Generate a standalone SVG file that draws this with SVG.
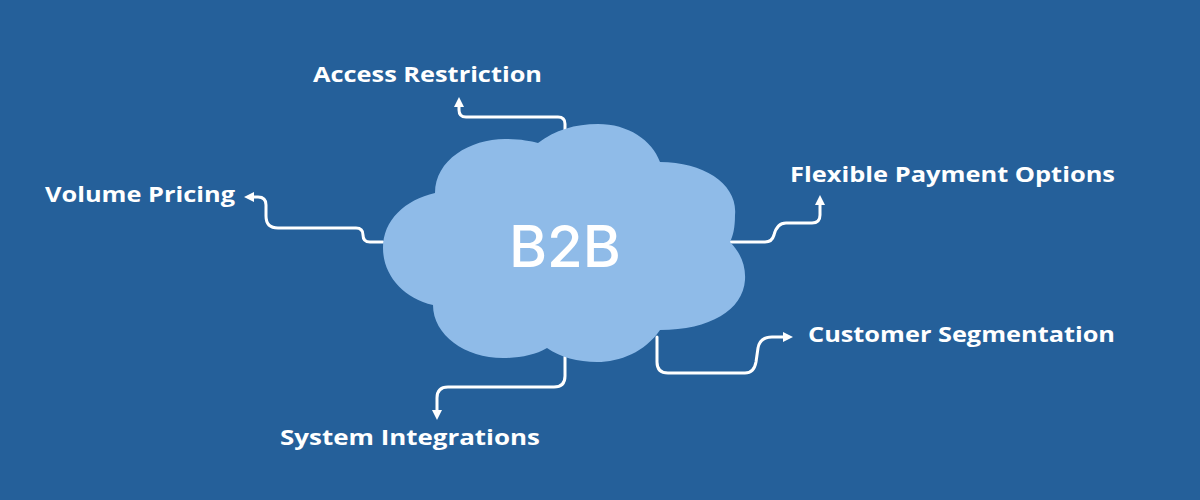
<svg xmlns="http://www.w3.org/2000/svg" width="1200" height="500" viewBox="0 0 1200 500">
  <defs>
    <marker id="arr" viewBox="0 0 10 10" refX="2" refY="5" markerWidth="10" markerHeight="10" markerUnits="userSpaceOnUse" orient="auto">
      <path d="M0,0 L10,5 L0,10 z" fill="#ffffff"/>
    </marker>
    <style>
      .lbl { font-family: "Open Sans", "Lato", sans-serif; font-weight: 700; font-size: 21px; fill: #ffffff; }
      .conn { fill: none; stroke: #ffffff; stroke-width: 3; stroke-linecap: round; stroke-linejoin: round; marker-end: url(#arr); }
    </style>
  </defs>
  <rect width="1200" height="500" fill="#25609a"/>

  <g id="connectors">
    <path class="conn" d="M383,242 H370 Q363,242 363,235 Q363,228 356,228 H278 Q266,228 266,216 V205 Q266,197 258,197 H252"/>
    <path class="conn" d="M565,130 V124 Q565,117 558,117 H466 Q459,117 459,110 V105"/>
    <path class="conn" d="M730,242 H765 Q772,242 774,235 Q777,223 786,223 H812 Q820,223 820,215 V203"/>
    <path class="conn" d="M657,337 V362 Q657,373 668,373 H745 Q754,373 756,362 L758,348 Q760,337 772,337 H785"/>
    <path class="conn" d="M565,357 V376 Q565,387 554,387 H448 Q437,387 437,398 V412"/>
  </g>

  <g id="cloud">
    <path fill="#8fbbe8" d="M435,193 C435,160 470,139 505,139 C520,139 530,141 538,143 C555,130 575,124 598,124 C628,124 652,140 660,162 C705,162 738,185 735,215 C735,228 733,236 730,242 C740,252 746,265 745,280 C743,310 710,330 660,330 C645,352 620,362 597,362 C578,362 560,357 547,348 C535,355 520,358 503,358 C465,358 433,335 433,305 C403,298 383,275 383,248 C383,220 405,200 435,193 Z"/>
    <text x="565" y="267" text-anchor="middle" font-family="Inter, 'Open Sans', sans-serif" font-weight="500" font-size="58" fill="#ffffff">B2B</text>
  </g>

  <g id="access"><text class="lbl" x="313" y="82" textLength="229" lengthAdjust="spacingAndGlyphs">Access Restriction</text></g>
  <g id="volume"><text class="lbl" x="45" y="202" textLength="190" lengthAdjust="spacingAndGlyphs">Volume Pricing</text></g>
  <g id="flexible"><text class="lbl" x="790" y="182" textLength="325" lengthAdjust="spacingAndGlyphs">Flexible Payment Options</text></g>
  <g id="customer"><text class="lbl" x="808" y="342" textLength="307" lengthAdjust="spacingAndGlyphs">Customer Segmentation</text></g>
  <g id="system"><text class="lbl" x="280" y="445" textLength="260" lengthAdjust="spacingAndGlyphs">System Integrations</text></g>
</svg>
